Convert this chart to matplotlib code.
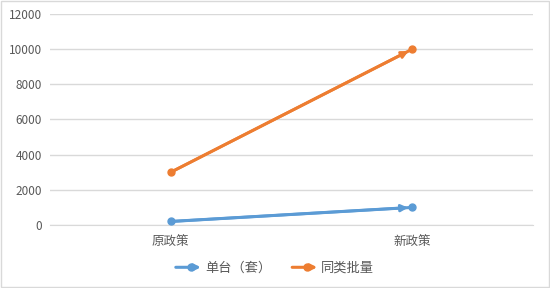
import matplotlib
matplotlib.use("Agg")
import matplotlib.pyplot as plt
from matplotlib.lines import Line2D
from matplotlib.legend_handler import HandlerBase
from matplotlib.patches import FancyArrowPatch

plt.rcParams['font.family'] = ['Noto Sans CJK SC', 'DejaVu Sans']

categories = ['原政策', '新政策']
series_names = ['单台（套）', '同类批量']
single_vals = [200, 1000]
batch_vals = [3000, 10000]
yticks = [0, 2000, 4000, 6000, 8000, 10000, 12000]

colors = ['#5B9BD5', '#ED7D31']

fig = plt.figure(figsize=(5.5, 2.88), dpi=100)
ax = fig.add_axes([0.0909, 0.2188, 0.8782, 0.7326])

xs = [0, 1]
for vals, c in zip([single_vals, batch_vals], colors):
    ax.plot(xs, vals, color=c, lw=2.2, marker='o', ms=5, zorder=3, solid_capstyle='round')
    ax.annotate('', xy=(xs[1], vals[1]), xytext=(xs[0], vals[0]),
                arrowprops=dict(arrowstyle='-|>', color=c, lw=2.0, mutation_scale=10,
                                shrinkA=0, shrinkB=3), zorder=4)

ax.set_xlim(-0.5, 1.5)
ax.set_ylim(0, 12000)
ax.set_yticks(yticks)
ax.set_yticklabels([str(v) for v in yticks])
ax.set_xticks(xs)
ax.set_xticklabels(categories)
ax.grid(axis='y', color='#D9D9D9', lw=1)
ax.set_axisbelow(True)
for s in ['top', 'right', 'left']:
    ax.spines[s].set_visible(False)
ax.spines['bottom'].set_color('#D9D9D9')
ax.tick_params(axis='both', length=0, labelsize=8.5, colors='#595959', pad=6)
ax.tick_params(axis='x', pad=8, labelsize=9)


class ArrowHandler(HandlerBase):
    def create_artists(self, legend, orig_handle, xdescent, ydescent, width, height, fontsize, trans):
        c = orig_handle.get_color()
        y = height / 2 - ydescent
        arr = FancyArrowPatch((0 - xdescent, y), (width - xdescent, y), arrowstyle='-|>',
                              color=c, lw=2.2, mutation_scale=9, shrinkA=0, shrinkB=0,
                              transform=trans)
        dot = Line2D([width / 2 - xdescent + 2], [y], marker='o', ms=5, color=c, transform=trans)
        return [arr, dot]


handles = [Line2D([], [], color=c) for c in colors]
leg = fig.legend(handles, series_names, loc='center', bbox_to_anchor=(0.5, 0.068), ncol=2,
                 frameon=False, fontsize=9.5, handler_map={Line2D: ArrowHandler()},
                 handlelength=1.9, columnspacing=1.6, handletextpad=0.3)
for t in leg.get_texts():
    t.set_color('#595959')

fig.patches.append(plt.Rectangle((0.001, 0.002), 0.997, 0.995, transform=fig.transFigure,
                                 fill=False, edgecolor='#D9D9D9', lw=1))

fig.savefig('out.png', dpi=100, facecolor='white')
